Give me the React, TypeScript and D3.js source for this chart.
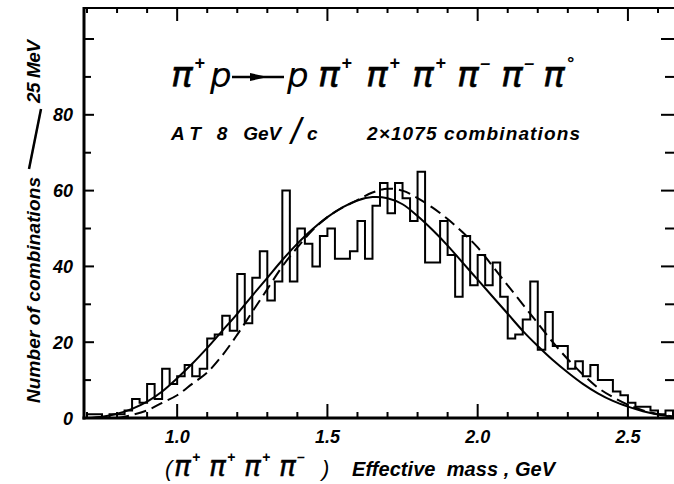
import * as d3 from "d3";
import React from "react";

// histogram: 25 MeV bins starting at 0.700 GeV
const binStart = 0.7;
const binWidth = 0.025;
const counts = [
    1, 1, 0, 1, 1, 2, 5, 4, 9, 5, 13, 9,
    11, 14, 11, 13, 21, 22, 27, 23, 38, 25, 37, 44,
    31, 36, 60, 36, 50, 46, 40, 48, 50, 42, 42, 44,
    52, 42, 56, 62, 54, 62, 58, 52, 65, 41, 41, 52,
    43, 32, 48, 35, 43, 35, 41, 32, 21, 22, 26, 36,
    18, 28, 19, 19, 13, 15, 11, 14, 10, 10, 7, 6,
    4, 3, 3, 2, 1, 2
];

// fitted curves every 50 MeV
const curveMass = [
    0.70, 0.75, 0.80, 0.85, 0.90, 0.95, 1.00, 1.05, 1.10, 1.15,
    1.20, 1.25, 1.30, 1.35, 1.40, 1.45, 1.50, 1.55, 1.60, 1.65,
    1.70, 1.75, 1.80, 1.85, 1.90, 1.95, 2.00, 2.05, 2.10, 2.15,
    2.20, 2.25, 2.30, 2.35, 2.40, 2.45, 2.50, 2.55, 2.60, 2.65
];
const solidCurve = [
    0, 0.3, 1.1, 2.4, 4.3, 7, 10.5, 14.3, 18.5, 23,
    27.5, 32.3, 37, 41.7, 46, 49.8, 53, 55.6, 57.4, 58.3,
    58, 56.4, 53.3, 49.6, 45.5, 41, 36.5, 32, 27.5, 23,
    19, 15.3, 12, 9, 6.5, 4.5, 3, 1.8, 0.9, 0.3
];
const dashedCurve: (number | null)[] = [
    null, null, 0, 0.8, 2, 4, 6, 9, 12, 16.5,
    22, 28, 34, 40, 45, 49.5, 53, 55.5, 57.5, 59.5,
    60.5, 60, 58, 55.5, 52.5, 49, 45, 40, 35, 30,
    25, 20, 15.5, 11.5, 8, 5.5, 3.5, 2, 1, 0.4
];

const xTickLabels = [1.0, 1.5, 2.0, 2.5];
const yTickLabels = [0, 20, 40, 60, 80];

const font = "'Liberation Sans', Arial, sans-serif";
const piFont = "'DejaVu Sans', sans-serif";

function Pi(props: { x: number; y: number; size: number; sup: string }) {
    const { x, y, size, sup } = props;
    return (
        <text x={x} y={y} fontSize={size} fontStyle="italic" fontFamily={piFont}
            stroke="#000" strokeWidth={size * 0.015}>
            π
            <tspan dx={size * 0.04} dy={-size * 0.5} fontSize={size * 0.5} fontFamily={font}
                fontWeight="bold" strokeWidth={0}>{sup}</tspan>
        </text>
    );
}

export default function App() {
    const x = d3.scaleLinear().domain([0.69, 2.65]).range([84, 673]);
    const y = d3.scaleLinear().domain([0, 108]).range([418, 8.7]);

    let hist = `M${x(binStart)},${y(0)}`;
    counts.forEach((c, i) => {
        hist += `V${y(c)}H${x(binStart + (i + 1) * binWidth)}`;
    });
    hist += `V${y(0)}`;

    const curvePts = (vals: (number | null)[]) => curveMass.map((m, i) => [m, vals[i]] as [number, number | null]);
    const line = d3.line<[number, number | null]>()
        .defined(d => d[1] !== null)
        .x(d => x(d[0]))
        .y(d => y(d[1] as number))
        .curve(d3.curveCatmullRom);

    const xTicks = x.ticks(20);
    const isMajor = (t: number) => Math.abs(t * 2 - Math.round(t * 2)) < 1e-6;
    const yTicks = y.ticks(10);

    const top = y.range()[1] - 0.7;
    const bottom = y(0);
    const left = x.range()[0];
    const right = 674;

    const titleY = 87;
    const subY = 140;

    return (
        <svg width={674} height={484} style={{ position: "absolute", left: 0, top: 0, background: "#fff" }}>
            {/* frame */}
            <line x1={left} x2={right} y1={top} y2={top} stroke="#000" strokeWidth={2} />
            <line x1={left} x2={left} y1={top - 1} y2={bottom + 1.5} stroke="#000" strokeWidth={3} />
            <line x1={left - 1.5} x2={right} y1={bottom} y2={bottom} stroke="#000" strokeWidth={3} />

            {xTicks.map(t => (
                <g key={"xt" + t}>
                    <line x1={x(t)} x2={x(t)} y1={bottom} y2={bottom - (isMajor(t) ? 14 : 6)} stroke="#000" strokeWidth={2} />
                    <line x1={x(t)} x2={x(t)} y1={top} y2={top + (isMajor(t) ? 13 : 5)} stroke="#000" strokeWidth={2} />
                </g>
            ))}
            {yTicks.map(t => (
                <g key={"yt" + t}>
                    <line x1={left} x2={left + (t % 20 === 0 ? 10 : 7)} y1={y(t)} y2={y(t)} stroke="#000" strokeWidth={2} />
                    <line x1={right} x2={right - (t % 20 === 0 ? 13 : 9)} y1={y(t)} y2={y(t)} stroke="#000" strokeWidth={2} />
                </g>
            ))}

            {xTickLabels.map(t => (
                <text key={"xl" + t} x={x(t)} y={443} textAnchor="middle" fontFamily={font}
                    fontStyle="italic" fontWeight="bold" fontSize={18}>{t.toFixed(1)}</text>
            ))}
            {yTickLabels.map(t => (
                <text key={"yl" + t} x={73} y={y(t) + 6.5} textAnchor="end" fontFamily={font}
                    fontStyle="italic" fontWeight="bold" fontSize={18}>{t}</text>
            ))}

            {/* histogram and curves */}
            <path d={hist} fill="none" stroke="#000" strokeWidth={2} strokeLinejoin="miter" />
            <path d={line(curvePts(solidCurve)) || ""} fill="none" stroke="#000" strokeWidth={2} />
            <path d={line(curvePts(dashedCurve)) || ""} fill="none" stroke="#000" strokeWidth={2} strokeDasharray="12 6" />

            {/* reaction */}
            <Pi x={171} y={titleY} size={36} sup="+" />
            <text x={210} y={titleY} fontSize={34} fontStyle="italic" fontFamily={piFont}>p</text>
            <line x1={232} x2={284} y1={titleY - 10} y2={titleY - 10} stroke="#000" strokeWidth={2.5} />
            <path d={`M250,${titleY - 14}L268,${titleY - 10}L250,${titleY - 6}Z`} fill="#000" />
            <text x={287} y={titleY} fontSize={34} fontStyle="italic" fontFamily={piFont}>p</text>
            <Pi x={318} y={titleY} size={36} sup="+" />
            <Pi x={366} y={titleY} size={36} sup="+" />
            <Pi x={412} y={titleY} size={36} sup="+" />
            <Pi x={457} y={titleY} size={36} sup="–" />
            <Pi x={501} y={titleY} size={36} sup="–" />
            <Pi x={543} y={titleY} size={36} sup="°" />

            <text x={171} y={subY} fontFamily={font} fontStyle="italic" fontWeight="bold" fontSize={19}
                xmlSpace="preserve">{"A T   8   GeV"}</text>
            <text x={291} y={subY + 4} fontFamily={font} fontStyle="italic" fontSize={36}>/</text>
            <text x={307} y={subY} fontFamily={font} fontStyle="italic" fontWeight="bold" fontSize={19}>c</text>
            <text x={367} y={subY} fontFamily={font} fontStyle="italic" fontWeight="bold" fontSize={19}
                textLength={213} lengthAdjust="spacing">2×1075 combinations</text>

            {/* x axis title */}
            <text x={165} y={476} fontFamily={font} fontStyle="italic" fontSize={22}>(</text>
            <Pi x={174} y={476} size={28} sup="+" />
            <Pi x={209} y={476} size={28} sup="+" />
            <Pi x={244} y={476} size={28} sup="+" />
            <Pi x={279} y={476} size={28} sup="–" />
            <text x={322} y={476} fontFamily={font} fontStyle="italic" fontSize={22}>)</text>
            <text x={352} y={476} fontFamily={font} fontStyle="italic" fontWeight="bold" fontSize={20}
                textLength={203} lengthAdjust="spacing" xmlSpace="preserve">{"Effective  mass , GeV"}</text>

            {/* y axis title */}
            <text transform="translate(40,403) rotate(-90)" fontFamily={font} fontStyle="italic" fontWeight="bold"
                fontSize={19} textLength={226} lengthAdjust="spacing">Number of combinations</text>
            <line x1={29} y1={169} x2={41} y2={109} stroke="#000" strokeWidth={2.5} />
            <text transform="translate(40,103) rotate(-90)" fontFamily={font} fontStyle="italic" fontWeight="bold"
                fontSize={19} textLength={63} lengthAdjust="spacing">25 MeV</text>
        </svg>
    );
}
